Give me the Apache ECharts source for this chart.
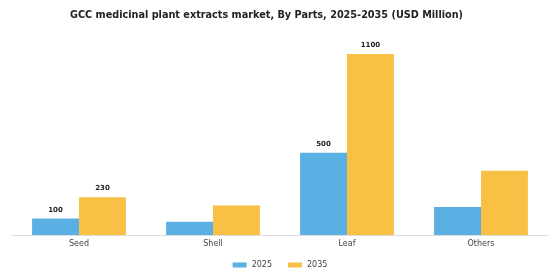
<!DOCTYPE html>
<html>
<head>
<meta charset="utf-8">
<script src="https://cdn.jsdelivr.net/npm/echarts@6/dist/echarts.min.js"></script>
<style>
  html, body { margin: 0; padding: 0; background: #fff; }
  #main { width: 560px; height: 280px; }
</style>
</head>
<body>
<div id="main"></div>
<script>
var categories = ['Seed', 'Shell', 'Leaf', 'Others'];
var values2025 = [100, 80, 500, 170];
var values2035 = [230, 180, 1100, 390];
// only some bars carry a label in the picture
var labeled2025 = [true, false, true, false];
var labeled2035 = [true, false, true, false];

function withLabels(vals, flags) {
  return vals.map(function (v, i) {
    return { value: v, label: { show: flags[i] } };
  });
}

var chart = echarts.init(document.getElementById('main'));
chart.setOption({
  animation: false,
  title: {
    text: 'GCC medicinal plant extracts market, By Parts, 2025-2035 (USD Million)',
    left: 65,
    top: 5,
    textStyle: { fontFamily: 'DejaVu Sans', fontSize: 9.7, fontWeight: 'bold', color: '#222' }
  },
  legend: {
    bottom: 6,
    left: 'center',
    itemWidth: 14,
    itemHeight: 5,
    itemGap: 16,
    icon: 'rect',
    textStyle: { fontFamily: 'DejaVu Sans', fontSize: 8, color: '#444' },
    data: ['2025', '2035']
  },
  grid: { left: 12, right: 12, top: 54, bottom: 45 },
  xAxis: {
    type: 'category',
    data: categories,
    axisTick: { show: false },
    axisLine: { lineStyle: { color: '#ddd' } },
    axisLabel: { fontFamily: 'DejaVu Sans', fontSize: 8, color: '#444', margin: 5 }
  },
  yAxis: {
    type: 'value',
    min: 0,
    max: 1100,
    show: false,
    splitLine: { show: false }
  },
  series: [
    {
      name: '2025',
      type: 'bar',
      data: withLabels(values2025, labeled2025),
      barGap: '0%',
      barCategoryGap: '30%',
      itemStyle: { color: '#5AAFE3' },
      label: { position: 'top', fontFamily: 'DejaVu Sans', fontSize: 7, fontWeight: 'bold', color: '#222', distance: 5 }
    },
    {
      name: '2035',
      type: 'bar',
      data: withLabels(values2035, labeled2035),
      barGap: '0%',
      barCategoryGap: '30%',
      itemStyle: { color: '#F8C146' },
      label: { position: 'top', fontFamily: 'DejaVu Sans', fontSize: 7, fontWeight: 'bold', color: '#222', distance: 5 }
    }
  ]
});
</script>
</body>
</html>
